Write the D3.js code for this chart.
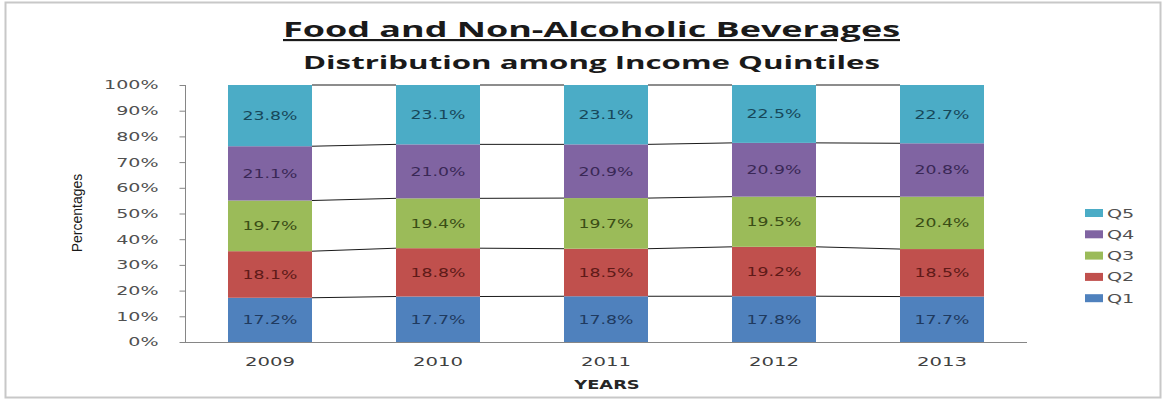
<!DOCTYPE html>
<html><head><meta charset="utf-8">
<script src="https://cdn.jsdelivr.net/npm/d3@7"></script>
<style>
html,body{margin:0;padding:0;background:#fff;}
svg{display:block;}
</style></head>
<body>
<svg id="chart" width="1168" height="401"></svg>
<script>
const years = ["2009","2010","2011","2012","2013"];
const seriesNames = ["Q1","Q2","Q3","Q4","Q5"];
const q1 = [17.2, 17.7, 17.8, 17.8, 17.7];
const q2 = [18.1, 18.8, 18.5, 19.2, 18.5];
const q3 = [19.7, 19.4, 19.7, 19.5, 20.4];
const q4 = [21.1, 21.0, 20.9, 20.9, 20.8];
const q5 = [23.8, 23.1, 23.1, 22.5, 22.7];
const yTicks = [0,0.1,0.2,0.3,0.4,0.5,0.6,0.7,0.8,0.9,1.0];
const colors = ["#4F81BD","#C0504D","#9BBB59","#8064A2","#4BACC6"];
const labelColors = ["#1F3A5F","#5E1A18","#3A4D16","#3A2856","#17485A"];

const seriesVals = [q1,q2,q3,q4,q5];
const table = years.map((y,i)=>{const o={year:y}; seriesNames.forEach((s,j)=>o[s]=seriesVals[j][i]); return o;});

const svg = d3.select("#chart");
const font = "'DejaVu Sans', Verdana, sans-serif";

// outer frame
svg.append("rect").attr("x",5.5).attr("y",2.5).attr("width",1155).attr("height",395)
  .attr("fill","#fff").attr("stroke","#C8C8C8").attr("stroke-width",2);

const x = d3.scaleBand().domain(years).range([186,1026]).paddingInner(0.5).paddingOuter(0.25);
const y = d3.scaleLinear().domain([0,1]).range([342,85]);

const stack = d3.stack().keys(seriesNames).offset(d3.stackOffsetExpand);
const stacked = stack(table);

// series lines
stacked.forEach(layer=>{
  for(let i=0;i<years.length-1;i++){
    svg.append("line")
      .attr("x1", x(years[i])+x.bandwidth()).attr("y1", y(layer[i][1]))
      .attr("x2", x(years[i+1])).attr("y2", y(layer[i+1][1]))
      .attr("stroke","#1a1a1a").attr("stroke-width",1);
  }
});

// bars
const g = svg.append("g");
const lblSx = 1.38;
stacked.forEach((layer,j)=>{
  g.selectAll(null).data(layer).enter().append("rect")
    .attr("x",d=>x(d.data.year)).attr("width",x.bandwidth())
    .attr("y",d=>y(d[1])).attr("height",d=>y(d[0])-y(d[1]))
    .attr("fill",colors[j]);
  g.selectAll(null).data(layer).enter().append("text")
    .attr("transform",d=>"translate("+(x(d.data.year)+x.bandwidth()/2)+","+((y(d[0])+y(d[1]))/2+4.5)+") scale("+lblSx+",1)")
    .attr("text-anchor","middle").attr("font-family",font).attr("font-size",12.5)
    .attr("fill",labelColors[j])
    .text((d,i)=>seriesVals[j][i].toFixed(1)+"%");
});

// y axis
const ySx = 1.55;
const yAxis = d3.axisLeft(y).tickValues(yTicks).tickFormat(d3.format(".0%")).tickSize(6);
const ya = svg.append("g").attr("transform","translate(185.5,0)").call(yAxis);
ya.selectAll("path,line").attr("stroke","#868686");
ya.selectAll("text").attr("font-family",font).attr("font-size",12.3).attr("fill","#505050")
  .attr("x",-27/ySx).attr("transform","scale("+ySx+",1)");
ya.select(".domain").attr("d","M0,"+y(1)+"V"+(y(0)+0.5));

// x axis
const xSx = 1.6;
const xAxis = d3.axisBottom(x).tickSize(0).tickPadding(14);
const xa = svg.append("g").attr("transform","translate(0,342.5)").call(xAxis);
xa.select(".domain").attr("stroke","#868686").attr("d","M180,0H1027");
xa.selectAll("text").attr("font-family",font).attr("font-size",12.3).attr("fill","#404040")
  .attr("dy",null).attr("y",23.5).attr("transform","scale("+xSx+",1)");

// titles
svg.append("text").attr("x",591.5).attr("y",37).attr("text-anchor","middle")
  .attr("font-family","'Open Sans', sans-serif").attr("font-weight","bold").attr("font-size",21.5)
  .attr("textLength",617).attr("lengthAdjust","spacingAndGlyphs")
  .attr("fill","#1a1a1a").attr("text-decoration","underline").text("Food and Non-Alcoholic Beverages");
svg.append("text").attr("x",591.5).attr("y",69).attr("text-anchor","middle")
  .attr("font-family","'Open Sans', sans-serif").attr("font-weight","bold").attr("font-size",17)
  .attr("textLength",577).attr("lengthAdjust","spacingAndGlyphs")
  .attr("fill","#1a1a1a").text("Distribution among Income Quintiles");

svg.append("text").attr("transform","translate(607,389) scale(1.45,1)").attr("text-anchor","middle")
  .attr("font-family",font).attr("font-weight","bold").attr("font-size",12.3)
  .attr("fill","#262626").text("YEARS");

svg.append("text").attr("transform","translate(82,213) rotate(-90)").attr("text-anchor","middle")
  .attr("font-family","'Liberation Sans Narrow', 'Liberation Sans', sans-serif").attr("font-stretch","condensed")
  .attr("font-size",14).attr("fill","#1a1a1a").text("Percentages");

// legend
const legendOrder = ["Q5","Q4","Q3","Q2","Q1"];
const lg = svg.append("g");
legendOrder.forEach((s,i)=>{
  const j = seriesNames.indexOf(s);
  const yy = 213 + i*21.3;
  lg.append("rect").attr("x",1085).attr("y",yy-4).attr("width",18).attr("height",8).attr("fill",colors[j]);
  lg.append("text").attr("transform","translate(1107,"+(yy+4.5)+") scale(1.5,1)")
    .attr("font-family",font).attr("font-size",12.8)
    .attr("fill","#505050").text(s);
});
</script>
</body></html>
